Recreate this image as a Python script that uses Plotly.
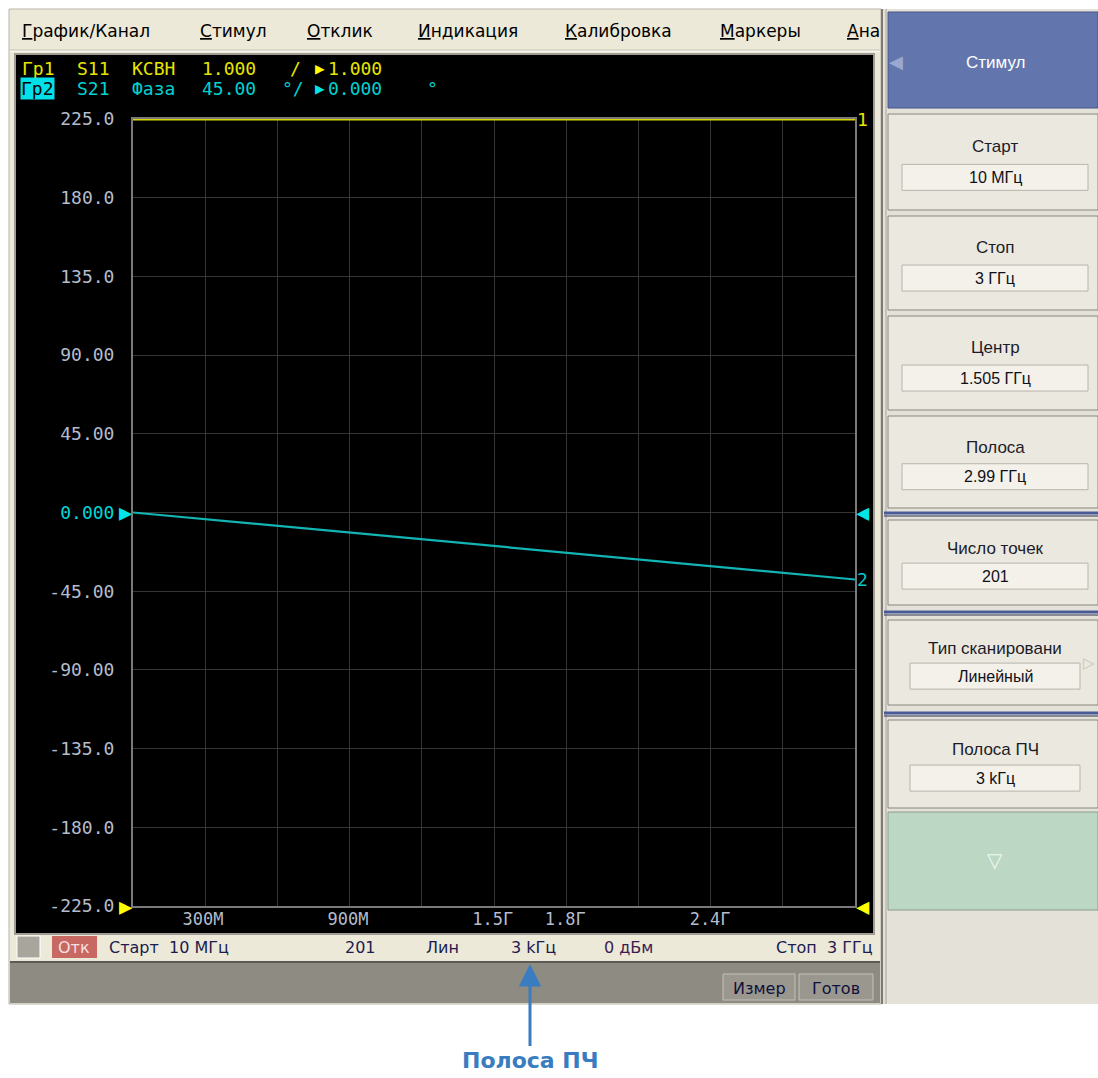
import plotly.graph_objects as go

# ---------------- data ----------------
freq_mhz = [10, 309, 608, 907, 1206, 1505, 1804, 2103, 2402, 2701, 3000]
phase_deg = [0.0, -3.8, -7.7, -11.5, -15.3, -19.2, -23.0, -26.8, -30.7, -34.5, -38.3]
vswr = [11.0] * len(freq_mhz)          # S11 KCBH trace (pinned at top of screen)
phase_ref = 0.0
vswr_ref = 1.0

y_ticks = [225, 180, 135, 90, 45, 0, -45, -90, -135, -180, -225]
y_ticktext = ["225.0", "180.0", "135.0", "90.00", "45.00", "0.000", "-45.00",
              "-90.00", "-135.0", "-180.0", "-225.0"]
x_label_vals = [300, 900, 1500, 1800, 2400]
x_label_text = ["300M", "900M", "1.5Г", "1.8Г", "2.4Г"]

menu_items = ["<u>Г</u>рафик/Канал", "<u>С</u>тимул", "<u>О</u>тклик", "<u>И</u>ндикация",
              "<u>К</u>алибровка", "<u>М</u>аркеры", "<u>А</u>на"]
menu_x = [20, 198, 305, 416, 563, 718, 845]

buttons = [  # (label, value, y0, y1)
    ("Старт", "10 МГц", 114, 210),
    ("Стоп", "3 ГГц", 216, 310),
    ("Центр", "1.505 ГГц", 316, 410),
    ("Полоса", "2.99 ГГц", 416, 508),
    ("Число точек", "201", 520, 605),
    ("Тип сканировани", "Линейный", 620, 705),
    ("Полоса ПЧ", "3 kГц", 720, 808),
]

# ---------------- geometry helpers ----------------
FW, FH = 1098, 1078
L, R, T, B = 133, 855, 119, 906
W, H = R - L, B - T


def px(x):
    return (x - L) / W


def py(y):
    return (B - y) / H


shapes = []


def rect(x0, y0, x1, y1, fill, line=None, lw=1, layer="below"):
    shapes.append(dict(type="rect", xref="paper", yref="paper",
                       x0=px(x0), x1=px(x1), y0=py(y1), y1=py(y0),
                       fillcolor=fill, layer=layer,
                       line=dict(color=line or fill, width=lw if line else 0)))


def hline(x0, x1, y, color, lw=1, layer="below"):
    shapes.append(dict(type="line", xref="paper", yref="paper",
                       x0=px(x0), x1=px(x1), y0=py(y), y1=py(y),
                       line=dict(color=color, width=lw), layer=layer))


def vline(x, y0, y1, color, lw=1, layer="below"):
    shapes.append(dict(type="line", xref="paper", yref="paper",
                       x0=px(x), x1=px(x), y0=py(y0), y1=py(y1),
                       line=dict(color=color, width=lw), layer=layer))


anns = []
UI_FONT = "Liberation Sans"
WIDE = "DejaVu Sans"
MONO = "DejaVu Sans Mono"


def text(x, y, s, color="#000000", size=16, font=UI_FONT, xanchor="left", bg=None, **kw):
    d = dict(xref="paper", yref="paper", x=px(x), y=py(y), text=s, showarrow=False,
             xanchor=xanchor, yanchor="middle", font=dict(family=font, size=size, color=color))
    if bg:
        d["bgcolor"] = bg
    d.update(kw)
    anns.append(d)


# ---------------- window chrome ----------------
BEIGE = "#ece9d8"
rect(9, 9, 881, 1004, BEIGE, "#b8b5a8")
hline(10, 880, 51, "#ffffff", 1)
hline(10, 880, 50, "#c8c5b8", 1)
for s, x in zip(menu_items, menu_x):
    text(x, 31, s, "#000000", 17, WIDE)

# black panel
rect(15, 54, 874, 934, "#000000", "#a09d94", 2)

# status bar
rect(17, 936, 40, 958, "#a8a59c", "#ffffff", 1)
rect(52, 936, 97, 958, "#c86862")
text(74, 947, "Отк", "#f4e0e0", 16, WIDE, xanchor="center")
text(107, 947, "Старт  10 МГц", "#1c1c50", 16, WIDE)
text(360, 947, "201", "#1c1c50", 16, WIDE, xanchor="center")
text(442, 947, "Лин", "#1c1c50", 16, WIDE, xanchor="center")
text(533, 947, "3 kГц", "#1c1c50", 16, WIDE, xanchor="center")
text(628, 947, "0 дБм", "#3c1c50", 16, WIDE, xanchor="center")
text(875, 947, "Стоп  3 ГГц", "#1c1c50", 16, WIDE, xanchor="right")

# gray bottom bar
rect(10, 962, 880, 1003, "#8e8b82")
hline(10, 880, 962, "#5c5a54", 2)
rect(723, 974, 795, 1000, "#9a978e", "#c4c1b8", 1)
rect(799, 974, 873, 1000, "#9a978e", "#c4c1b8", 1)
text(759, 988, "Измер", "#10103c", 16, WIDE, xanchor="center")
text(836, 988, "Готов", "#10103c", 16, WIDE, xanchor="center")

# right soft-key panel
rect(881, 9, 1098, 1004, "#e4e2d8")
vline(882, 9, 1004, "#7c7a72", 2)
vline(886, 9, 1004, "#a8a59c", 1)
# Stimulus title button
rect(888, 12, 1098, 108, "#6276ad", "#44548a", 1)
text(995, 62, "Стимул", "#ffffff", 17, xanchor="center")
text(896, 62, "◀", "#9aa8d0", 18, xanchor="center")
for lab, val, y0, y1 in buttons:
    rect(888, y0, 1098, y1, "#ebe8df", "#8a877e", 1)
    narrow = lab in ("Тип сканировани", "Полоса ПЧ")
    bx0, bx1 = (910, 1080) if narrow else (902, 1088)
    cy_lab = y0 + (y1 - y0) * 0.34
    cy_val = y0 + (y1 - y0) * 0.66
    rect(bx0, cy_val - 13, bx1, cy_val + 13, "#f3f1ea", "#b8b5ac", 1)
    text((bx0 + bx1) / 2 if not narrow else 995, cy_lab, lab, "#1c1c28", 17, xanchor="center")
    text((bx0 + bx1) / 2, cy_val, val, "#101018", 16, xanchor="center")
# blue separators
for ys in (513, 612, 713):
    hline(884, 1098, ys, "#4a5c98", 3)
    hline(884, 1098, ys + 3, "#2c3050", 1)
text(1089, 662, "▷", "#c8c5bc", 15, xanchor="center")
# green button
rect(888, 812, 1098, 910, "#bcd8c4", "#8a9a8e", 1)
text(995, 860, "▽", "#eef6f0", 20, xanchor="center")

# ---------------- header (trace status lines) ----------------
YEL = "#e6e600"
CYA = "#00d2d2"
for s, x in [("Гр1", 20), ("S11", 75), ("КСВН", 130), ("1.000", 200), ("/", 288), ("1.000", 326)]:
    text(x, 68, s, YEL, 18, MONO)
text(313, 68, "▶", "#ffff00", 16, MONO)
text(20, 89, "Гр2", "#000000", 18, MONO, bg="#00e0e8", borderpad=0)
for s, x in [("S21", 75), ("Фаза", 130), ("45.00", 200), ("°/", 280), ("0.000", 326), ("°", 425)]:
    text(x, 89, s, CYA, 18, MONO)
text(313, 89, "▶", "#00e6e6", 16, MONO)

# ---------------- reference markers & trace numbers ----------------
anns.append(dict(xref="paper", yref="y", x=0, y=phase_ref, text="▶", showarrow=False,
                 xanchor="right", yanchor="middle", xshift=2,
                 font=dict(family=MONO, size=22, color="#00e6e6")))
anns.append(dict(xref="paper", yref="y", x=1, y=phase_ref, text="◀", showarrow=False,
                 xanchor="left", yanchor="middle", xshift=-1,
                 font=dict(family=MONO, size=22, color="#00e6e6")))
anns.append(dict(xref="paper", yref="y3", x=0, y=vswr_ref, text="▶", showarrow=False,
                 xanchor="right", yanchor="middle", xshift=2,
                 font=dict(family=MONO, size=22, color="#ffff00")))
anns.append(dict(xref="paper", yref="y3", x=1, y=vswr_ref, text="◀", showarrow=False,
                 xanchor="left", yanchor="middle", xshift=-1,
                 font=dict(family=MONO, size=22, color="#ffff00")))
anns.append(dict(xref="paper", yref="y3", x=1, y=vswr[-1], text="1", showarrow=False,
                 xanchor="left", yanchor="middle", xshift=0,
                 font=dict(family=MONO, size=18, color="#e6e600")))
anns.append(dict(xref="x", yref="y", x=freq_mhz[-1], y=phase_deg[-1], text="2", showarrow=False,
                 xanchor="left", yanchor="middle", xshift=0,
                 font=dict(family=MONO, size=18, color="#00c8c8")))

# ---------------- callout arrow ----------------
anns.append(dict(xref="paper", yref="paper", x=px(530), y=py(964), text="<b>Полоса ПЧ</b>",
                 showarrow=True, ax=0, ay=96, arrowhead=2, arrowsize=1.5, arrowwidth=3,
                 arrowcolor="#3a7cc0", standoff=0, startstandoff=0,
                 font=dict(family="DejaVu Sans", size=22, color="#3a7cc0")))

# ---------------- figure ----------------
fig = go.Figure()
fig.add_trace(go.Scatter(x=freq_mhz, y=phase_deg, mode="lines", xaxis="x", yaxis="y",
                         line=dict(color="#12b4b4", width=2.2), hoverinfo="skip",
                         showlegend=False))
fig.add_trace(go.Scatter(x=freq_mhz, y=vswr, mode="lines", xaxis="x2", yaxis="y3",
                         line=dict(color="#d8d800", width=3), hoverinfo="skip",
                         showlegend=False))

fig.update_layout(
    width=FW, height=FH,
    margin=dict(l=L, r=FW - R, t=T, b=FH - B, pad=0),
    paper_bgcolor="#ffffff", plot_bgcolor="#000000",
    showlegend=False, hovermode=False,
    xaxis=dict(range=[freq_mhz[0], freq_mhz[-1]], tick0=freq_mhz[0], dtick=(freq_mhz[-1] - freq_mhz[0]) / 10,
               showgrid=True, gridcolor="#353535", gridwidth=1, showticklabels=False,
               zeroline=False, showline=True, linecolor="#7a7a7a", linewidth=2, mirror=True,
               ticks="", fixedrange=True),
    xaxis2=dict(range=[freq_mhz[0], freq_mhz[-1]], overlaying="x", side="bottom",
                tickvals=x_label_vals, ticktext=x_label_text, showgrid=False, zeroline=False,
                showline=False, ticks="", ticklabelstandoff=1,
                tickfont=dict(family=MONO, size=17, color="#b4bccc")),
    yaxis=dict(range=[-225, 225], tickvals=y_ticks,
               ticktext=[f"<span style='color:#00d8d8'>{t}</span>" if v == 0 else t
                         for v, t in zip(y_ticks, y_ticktext)],
               showgrid=True, gridcolor="#353535", gridwidth=1, zeroline=False,
               showline=True, linecolor="#7a7a7a", linewidth=2, mirror=True, ticks="",
               ticklabelstandoff=13, tickfont=dict(family=MONO, size=18, color="#b4bccc")),
    yaxis3=dict(range=[1, 11], overlaying="y", visible=False),
    shapes=shapes,
    annotations=anns,
)

fig.write_html("out.html", config={"displayModeBar": False},
               post_script="document.body.style.margin='0';document.body.style.padding='0';")
